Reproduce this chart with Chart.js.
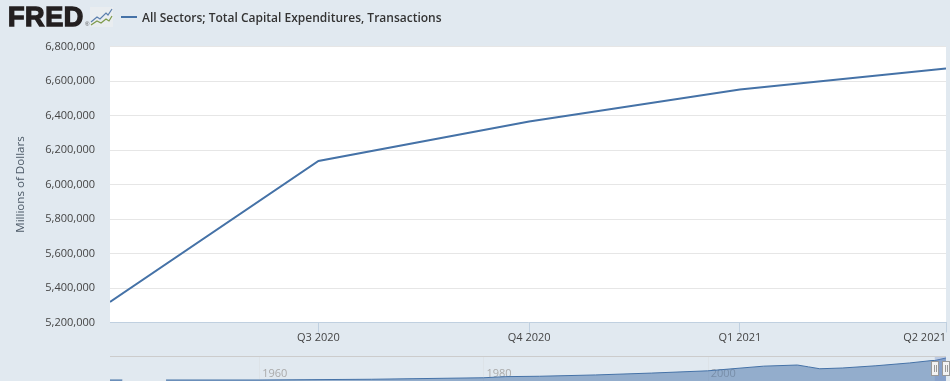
<!DOCTYPE html>
<html>
<head>
<meta charset="utf-8">
<title>FRED chart</title>
<script src="https://cdn.jsdelivr.net/npm/chart.js@4"></script>
<style>
  html, body { margin: 0; padding: 0; width: 950px; height: 381px; overflow: hidden; background: #e1e9f0; }
  #main { position: absolute; left: 0; top: 0; }
  #nav { position: absolute; left: 110px; top: 357px; }
  #rule { position: absolute; left: 110px; top: 356px; width: 836px; height: 1px; background: #cccccc; }
  #logo { position: absolute; left: 8px; top: 2px; font: bold 27px "Liberation Sans"; letter-spacing: 0.6px; color: #231f20; -webkit-text-stroke: 1.4px #231f20; }
  #reg { position: absolute; left: 85px; top: 21px; font: 6px "Liberation Sans"; color: #555; }
  #icon { position: absolute; left: 90px; top: 7px; }
  #key { position: absolute; left: 121px; top: 16px; width: 16px; height: 2px; background: #4572a7; }
  #legend { position: absolute; left: 142px; top: 8.5px; font: 600 12px "Open Sans"; color: #333; white-space: nowrap; }
</style>
</head>
<body>
<canvas id="main" width="950" height="381"></canvas>
<div id="rule"></div>
<canvas id="nav" width="840" height="26"></canvas>
<div id="logo">FRED</div>
<div id="reg">®</div>
<svg id="icon" width="23" height="20">
  <rect width="23" height="20" fill="#e9edf0"/>
  <polyline points="1,15 7,10 10,12 16,6 18,8 22,2" fill="none" stroke="#5b7fae" stroke-width="1.2"/>
  <polyline points="1,18 7,14 11,16 16,12 19,14 22,9" fill="none" stroke="#7d9a4a" stroke-width="1.2"/>
</svg>
<div id="key"></div>
<div id="legend">All Sectors; Total Capital Expenditures, Transactions</div>

<script>
// Main series: days since Q2 2020 start, millions of dollars
const quarterLabels = ['Q2 2020', 'Q3 2020', 'Q4 2020', 'Q1 2021', 'Q2 2021'];
const quarterDays = [0, 91, 183, 275, 365];
const seriesValues = [5319000, 6136000, 6365000, 6551000, 6672000];
const yTicks = [5200000, 5400000, 5600000, 5800000, 6000000, 6200000, 6400000, 6600000, 6800000];

// Navigator series, full history
const navYears = [1946.7, 1947.8, 1949.5, 1951.7, 1960, 1970, 1980, 1982, 1985, 1990, 1995, 2000, 2005, 2008, 2009, 2010, 2012, 2015, 2018, 2020, 2020.25, 2021.25];
const navValues = [800000, 800000, null, 800000, 800000, 1000000, 1400000, 1700000, 1800000, 2150000, 2650000, 3250000, 4500000, 4800000, 4300000, 3800000, 4000000, 4600000, 5350000, 6000000, 6000000, 6672000];
const navTicks = [1960, 1980, 2000];
const navRange = [2020.25, 2021.25];

const AXIS_FONT = { family: 'Open Sans', size: 11 };

// last label sits flush right, so the x labels are drawn here
const xLabels = {
  id: 'xLabels',
  afterDraw(chart) {
    const { ctx, scales: { x } } = chart;
    ctx.save();
    ctx.font = '11px "Open Sans"';
    ctx.fillStyle = '#444';
    ctx.textBaseline = 'middle';
    quarterDays.forEach((d, i) => {
      if (i === 0) return;
      const px = x.getPixelForValue(d);
      const last = i === quarterDays.length - 1;
      ctx.textAlign = last ? 'right' : 'center';
      ctx.fillText(quarterLabels[i], px, 338);
    });
    ctx.restore();
  }
};

new Chart(document.getElementById('main'), {
  type: 'line',
  data: {
    datasets: [{
      data: quarterDays.map((d, i) => ({ x: d, y: seriesValues[i] })),
      borderColor: '#4572a7',
      borderWidth: 2,
      pointRadius: 0,
      tension: 0
    }]
  },
  plugins: [
    {
      id: 'plotBg',
      beforeDraw(chart) {
        const { ctx, chartArea: a } = chart;
        ctx.fillStyle = '#fff';
        ctx.fillRect(a.left, 46, a.right - a.left, 276);
      }
    },
    xLabels
  ],
  options: {
    responsive: false,
    animation: false,
    layout: { padding: { top: 46.5, right: 4, left: 14, bottom: 0 } },
    plugins: { legend: { display: false }, tooltip: { enabled: false } },
    scales: {
      x: {
        type: 'linear',
        min: 0,
        max: 365,
        afterBuildTicks: s => { s.ticks = quarterDays.slice(1).map(v => ({ value: v })); },
        afterFit: s => { s.height = 58.5; },
        ticks: { display: false },
        grid: { drawOnChartArea: false, drawTicks: true, tickLength: 10, tickColor: '#c0d0e0' },
        border: { color: '#c0d0e0' }
      },
      y: {
        min: 5200000,
        max: 6800000,
        afterBuildTicks: s => { s.ticks = yTicks.map(v => ({ value: v })); },
        afterFit: s => { s.width = 96; },
        ticks: {
          color: '#444',
          font: AXIS_FONT,
          padding: 15,
          callback: v => v.toLocaleString('en-US')
        },
        grid: { color: '#e6e6e6', drawTicks: false },
        border: { display: false },
        title: {
          display: true,
          text: 'Millions of Dollars',
          color: '#4d5a67',
          font: { family: 'Open Sans', size: 11.6 },
          padding: { top: 0, bottom: 0 }
        }
      }
    }
  }
});

new Chart(document.getElementById('nav'), {
  type: 'line',
  data: {
    datasets: [{
      data: navYears.map((y, i) => ({ x: y, y: navValues[i] })),
      borderColor: '#4572a7',
      borderWidth: 1,
      backgroundColor: 'rgba(69,114,167,0.5)',
      fill: 'origin',
      pointRadius: 0,
      tension: 0,
      spanGaps: false
    }]
  },
  plugins: [
    {
      id: 'navTicks',
      beforeDatasetsDraw(chart) {
        const { ctx, scales: { x } } = chart;
        ctx.save();
        ctx.font = '11px "Open Sans"';
        ctx.fillStyle = '#aaa';
        ctx.strokeStyle = '#dde3e8';
        ctx.textBaseline = 'alphabetic';
        navTicks.forEach(t => {
          const px = x.getPixelForValue(t);
          ctx.beginPath();
          ctx.moveTo(Math.round(px) + 0.5, 0);
          ctx.lineTo(Math.round(px) + 0.5, 24);
          ctx.stroke();
          ctx.fillText(String(t), px + 3, 20);
        });
        ctx.restore();
      },
      afterDatasetsDraw(chart) {
        const { ctx, scales: { x } } = chart;
        const a = x.getPixelForValue(navRange[0]);
        const b = x.getPixelForValue(navRange[1]);
        ctx.save();
        ctx.fillStyle = 'rgba(102,133,194,0.3)';
        ctx.fillRect(a, 0, b - a, 26);
        [a, b].forEach(px => {
          const cx = Math.round(px);
          ctx.fillStyle = '#f2f2f2';
          ctx.strokeStyle = '#999';
          ctx.fillRect(cx - 3.5, 4.5, 7, 14);
          ctx.strokeRect(cx - 3.5, 4.5, 7, 14);
          ctx.beginPath();
          ctx.moveTo(cx - 0.5, 8);
          ctx.lineTo(cx - 0.5, 15);
          ctx.moveTo(cx + 1.5, 8);
          ctx.lineTo(cx + 1.5, 15);
          ctx.stroke();
        });
        ctx.restore();
      }
    }
  ],
  options: {
    responsive: false,
    animation: false,
    layout: { padding: 0 },
    plugins: { legend: { display: false }, tooltip: { enabled: false } },
    scales: {
      x: { type: 'linear', display: false, min: 1946.7, max: 2021.25 + 0.36 },
      y: { display: false, min: 0, max: 6940000 }
    }
  }
});
</script>
</body>
</html>
